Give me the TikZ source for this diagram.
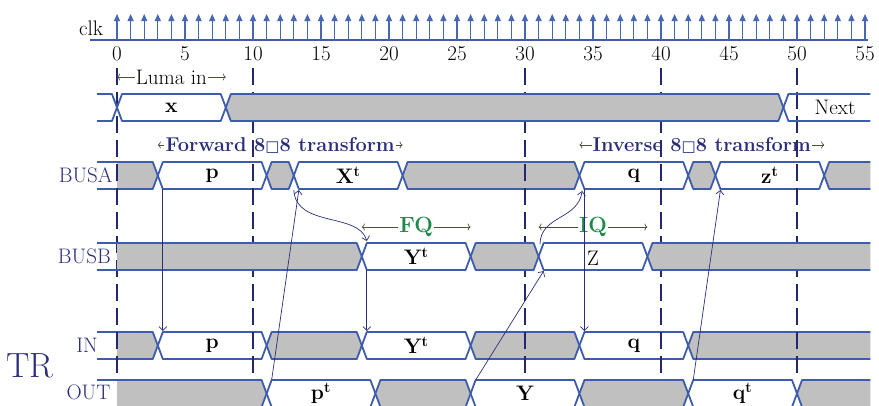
\documentclass[tikz,border=0pt]{standalone}
\usepackage{fontspec}
\newfontfamily\boxfont{DejaVu Sans}
\usetikzlibrary{arrows.meta}
\definecolor{busblue}{RGB}{62,92,172}
\definecolor{busgray}{RGB}{192,192,192}
\definecolor{navy}{RGB}{42,46,122}
\definecolor{marknavy}{RGB}{34,40,108}
\definecolor{spanline}{RGB}{78,78,52}
\definecolor{qgreen}{RGB}{28,138,72}
\definecolor{clkblue}{RGB}{72,102,182}
\newcommand\cw{0.37}

\begin{document}
\begin{tikzpicture}[x=13.6pt, y=-1pt, line join=round,
  bus/.style={draw=busblue, line width=1.8pt},
  period/.style={draw=marknavy, line width=2.8pt, dash pattern=on 17pt off 7pt},
  clkarrow/.style={draw=clkblue, line width=1.1pt, -{Triangle[length=7pt,width=6pt]}},
  sig/.style={text=navy, font=\fontsize{21}{25}\selectfont},
  num/.style={font=\fontsize{21}{25}\selectfont},
  val/.style={font=\bfseries\fontsize{21}{25}\selectfont},
  note/.style={text=navy, font=\bfseries\fontsize{20}{24}\selectfont, inner sep=1pt},
  span/.style={draw=spanline, line width=0.7pt, -{To[length=3pt,width=7pt]}},
  link/.style={draw=navy, line width=0.7pt, -{Straight Barb[length=4pt,width=8pt]}}]

\useasboundingbox (-8.603,0) rectangle (56.029,405);
\clip (-8.603,0) rectangle (56.029,405);

% clock and time axis
\node[num] (clk) at (-1.9,28) {clk};
\draw[busblue, line width=1.8pt] (-1.99,40) -- (55.2,40);
\foreach \i in {0,...,55} \draw[clkarrow] (\i,40) -- (\i,14);
\foreach \i in {0,5,...,55} \node[num] (n\i) at (\i,54) {\i};

% BUSA
\fill[busgray] (0,162) -- (3-\cw,162) -- (3,175.5) -- (3-\cw,189) -- (0,189) -- cycle;
\draw[bus] (-1.47,162) -- (3-\cw,162) -- (3,175.5) -- (3-\cw,189) -- (-1.47,189);
\foreach \a/\b/\f in {3/11/none, 11/13/busgray, 13/21/none, 21/34/busgray, 34/42/none, 42/44/busgray, 44/52/none}
  \path[bus, fill=\f] (\a,175.5) -- (\a+\cw,162) -- (\b-\cw,162) -- (\b,175.5) -- (\b-\cw,189) -- (\a+\cw,189) -- cycle;
\fill[busgray] (52,175.5) -- (52+\cw,162) -- (55.4,162) -- (55.4,189) -- (52+\cw,189) -- cycle;
\draw[bus] (55.4,162) -- (52+\cw,162) -- (52,175.5) -- (52+\cw,189) -- (55.4,189);

% IN
\fill[busgray] (0,332) -- (3-\cw,332) -- (3,345.5) -- (3-\cw,359) -- (0,359) -- cycle;
\draw[bus] (-1.47,332) -- (3-\cw,332) -- (3,345.5) -- (3-\cw,359) -- (-1.47,359);
\foreach \a/\b/\f in {3/11/none, 11/18/busgray, 18/26/none, 26/34/busgray, 34/42/none}
  \path[bus, fill=\f] (\a,345.5) -- (\a+\cw,332) -- (\b-\cw,332) -- (\b,345.5) -- (\b-\cw,359) -- (\a+\cw,359) -- cycle;
\fill[busgray] (42,345.5) -- (42+\cw,332) -- (55.4,332) -- (55.4,359) -- (42+\cw,359) -- cycle;
\draw[bus] (55.4,332) -- (42+\cw,332) -- (42,345.5) -- (42+\cw,359) -- (55.4,359);

% OUT
\fill[busgray] (0,380) -- (11-\cw,380) -- (11,393.5) -- (11-\cw,407) -- (0,407) -- cycle;
\draw[bus] (-1.47,380) -- (11-\cw,380) -- (11,393.5) -- (11-\cw,407) -- (-1.47,407);
\foreach \a/\b/\f in {11/19/none, 19/26/busgray, 26/34/none, 34/42/busgray, 42/50/none}
  \path[bus, fill=\f] (\a,393.5) -- (\a+\cw,380) -- (\b-\cw,380) -- (\b,393.5) -- (\b-\cw,407) -- (\a+\cw,407) -- cycle;
\fill[busgray] (50,393.5) -- (50+\cw,380) -- (55.4,380) -- (55.4,407) -- (50+\cw,407) -- cycle;
\draw[bus] (55.4,380) -- (50+\cw,380) -- (50,393.5) -- (50+\cw,407) -- (55.4,407);

% period marks
\foreach \i in {0,10,30,40,50} \draw[period] (\i,68) -- (\i,376);

% luma input
\draw[bus] (-1.47,94) -- (-\cw,94) -- (0,107.5) -- (-\cw,121) -- (-1.47,121);
\foreach \a/\b/\f in {0/8/none, 8/49/busgray}
  \path[bus, fill=\f] (\a,107.5) -- (\a+\cw,94) -- (\b-\cw,94) -- (\b,107.5) -- (\b-\cw,121) -- (\a+\cw,121) -- cycle;
\draw[bus] (55.4,94) -- (49+\cw,94) -- (49,107.5) -- (49+\cw,121) -- (55.4,121);

% BUSB
\fill[busgray] (0,243) -- (18-\cw,243) -- (18,256.5) -- (18-\cw,270) -- (0,270) -- cycle;
\draw[bus] (-1.47,243) -- (18-\cw,243) -- (18,256.5) -- (18-\cw,270) -- (-1.47,270);
\foreach \a/\b/\f in {18/26/none, 26/31/busgray, 31/39/none}
  \path[bus, fill=\f] (\a,256.5) -- (\a+\cw,243) -- (\b-\cw,243) -- (\b,256.5) -- (\b-\cw,270) -- (\a+\cw,270) -- cycle;
\fill[busgray] (39,256.5) -- (39+\cw,243) -- (55.4,243) -- (55.4,270) -- (39+\cw,270) -- cycle;
\draw[bus] (55.4,243) -- (39+\cw,243) -- (39,256.5) -- (39+\cw,270) -- (55.4,270);

% signal names
\node[sig] (busa) at (-2.3,175.5) {BUSA};
\node[sig] (busb) at (-2.4,256.5) {BUSB};
\node[sig] (in) at (-2.2,345.5) {IN};
\node[sig] (out) at (-2.1,392.5) {OUT};
\node[sig, font=\fontsize{35}{40}\selectfont] (tr) at (-6.4,366) {TR};

% values
\node[val] (luma-x) at (4,107.5) {x};
\node[num] (luma-next) at (52.8,107.5) {Next};
\node[val] (busa-p) at (7,175.5) {p};
\node[val] (busa-xt) at (17,175.5) {X\textsuperscript{t}};
\node[val] (busa-q) at (38,175.5) {q};
\node[val] (busa-zt) at (48,175.5) {z\textsuperscript{t}};
\node[val] (busb-yt) at (22,256.5) {Y\textsuperscript{t}};
\node[num] (busb-z) at (35,258) {Z};
\node[val] (in-p) at (7,345.5) {p};
\node[val] (in-yt) at (22,345.5) {Y\textsuperscript{t}};
\node[val] (in-q) at (38,345.5) {q};
\node[val] (out-pt) at (15,393.5) {p\textsuperscript{t}};
\node[val] (out-y) at (30,393.5) {Y};
\node[val] (out-qt) at (46,393.5) {q\textsuperscript{t}};

% spans
\node[num, inner sep=1pt] (luma) at (4,77) {Luma in};
\draw[span] (luma.west) -- (0,77);
\draw[span] (luma.east) -- (8,77);
\node[note] (fwd) at (12,145) {Forward 8{\boxfont\fontsize{15}{15}\selectfont □}8 transform};
\draw[span] (fwd.west) -- (3,145);
\draw[span] (fwd.east) -- (21,145);
\node[note] (inv) at (43,145) {Inverse 8{\boxfont\fontsize{15}{15}\selectfont □}8 transform};
\draw[span] (inv.west) -- (34,145);
\draw[span] (inv.east) -- (52,145);
\node[note, text=qgreen, font=\bfseries\fontsize{22}{26}\selectfont] (fq) at (22,227) {FQ};
\draw[span] (fq.west) -- (18,227);
\draw[span] (fq.east) -- (26,227);
\node[note, text=qgreen, font=\bfseries\fontsize{22}{26}\selectfont] (iq) at (35,227) {IQ};
\draw[span] (iq.west) -- (31,227);
\draw[span] (iq.east) -- (39,227);

% transfers
\coordinate (busa-p-b) at (3+\cw,189);
\coordinate (in-p-t) at (3+\cw,331);
\coordinate (busb-yt-b) at (18+\cw,270);
\coordinate (in-yt-t) at (18+\cw,331);
\coordinate (busa-q-b) at (34+\cw,189);
\coordinate (in-q-t) at (34+\cw,331);
\coordinate (busa-xt-x) at (13,190);
\coordinate (busb-yt-t) at (18+\cw,241);
\coordinate (busb-z-x) at (31.1,244);
\coordinate (busa-q-x) at (34.2,191);
\coordinate (out-pt-t) at (11+\cw,380);
\coordinate (busa-xt-b) at (13+\cw,190);
\coordinate (out-y-t) at (26+\cw,380);
\coordinate (busb-z-b) at (31+\cw,271);
\coordinate (out-qt-t) at (42+\cw,380);
\coordinate (busa-zt-b) at (44+\cw,190);

\draw[link] (busa-p-b) -- (in-p-t);
\draw[link] (busb-yt-b) -- (in-yt-t);
\draw[link] (busa-q-b) -- (in-q-t);
\draw[link] (busa-xt-x) .. controls +(0.15,38) and +(-0.6,-29) .. (busb-yt-t);
\draw[link] (busb-z-x) .. controls +(0.07,-29) and +(-0.3,29) .. (busa-q-x);
\draw[link] (out-pt-t) -- (busa-xt-b);
\draw[link] (out-y-t) -- (busb-z-b);
\draw[link] (out-qt-t) -- (busa-zt-b);

\end{tikzpicture}
\end{document}
